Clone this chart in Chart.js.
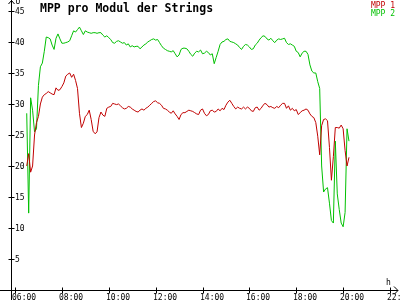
<!DOCTYPE html>
<html>
<head>
<meta charset="utf-8">
<script src="https://cdn.jsdelivr.net/npm/chart.js@4.4.1/dist/chart.umd.min.js"></script>
<style>
  html, body { margin: 0; padding: 0; background: #fff; }
  #wrap { width: 400px; height: 300px; position: relative; }
</style>
</head>
<body>
<div id="wrap"><canvas id="mppChart" width="400" height="300"></canvas></div>
<script>
// Messwerte alle 5 Minuten ab 06:30
var startTime = '06:30';
var stepMinutes = 5;

var mpp1 = [
  20, 22, 19, 20, 25, 27, 28, 30, 31.1, 31.5,
  31.7, 32, 31.8, 31.6, 31.5, 32.6, 32.2, 32.3, 32.8, 33.4,
  34.5, 34.8, 35, 34.3, 34.8, 33.8, 32.5, 28.5, 26.2, 26.9,
  28, 28.3, 29, 27.5, 25.6, 25.2, 25.5, 27.8, 28.7, 28.2,
  28, 29.3, 29.5, 29.6, 30.1, 30, 29.9, 30, 29.7, 29.4,
  29.2, 29.3, 29.6, 29.5, 29.2, 29, 28.8, 28.7, 29, 29.2,
  29, 29.3, 29.5, 29.8, 30.1, 30.4, 30.5, 30.2, 30.1, 29.8,
  29.3, 29.2, 29, 28.7, 28.5, 28.9, 28.4, 28, 27.5, 28.3,
  28.6, 28.6, 28.8, 29, 28.9, 28.8, 28.6, 28.4, 28.3, 29,
  29.2, 28.5, 28.1, 28.3, 28.9, 29, 28.7, 28.8, 29.2, 28.9,
  29.3, 29.1, 29.8, 30.3, 30.6, 30.1, 29.6, 29.2, 29.5, 29.3,
  29.2, 29.5, 29.2, 29.5, 29.3, 28.9, 28.8, 29.4, 29.5, 29,
  29.3, 29.8, 30.1, 29.9, 29.5, 29.6, 29.4, 29.3, 29.6, 29.4,
  29.8, 30.1, 30.1, 29.3, 29.7, 29, 29.3, 28.9, 29.1, 28.3,
  28.6, 28.9, 29, 29.2, 29, 28.4, 28, 27.8, 27, 24.8,
  21.8, 26.5, 27.5, 27.6, 27.3, 23, 17.7, 21.5, 26.2, 26.2,
  26.1, 26.6, 26, 22.5, 20, 21.4
];

var mpp2 = [
  28.5, 12.4, 31, 29, 25.5, 26, 33, 36, 36.6, 38.5,
  40.8, 40.7, 40.5, 39.5, 38.8, 40.6, 41.3, 40.5, 39.8, 39.8,
  39.9, 40, 40.2, 41, 41.8, 41.6, 42, 42.4, 41.8, 41.2,
  41.8, 41.6, 41.5, 41.4, 41.5, 41.5, 41.4, 41.5, 41.5, 41.1,
  40.8, 41, 40.7, 40.4, 39.9, 39.8, 40.1, 40.2, 40, 39.8,
  39.9, 39.5, 39.7, 39.2, 39.4, 39.2, 39.3, 39.3, 38.9, 39.2,
  39.5, 39.7, 40, 40.2, 40.4, 40.5, 40.3, 40.4, 39.9, 39.4,
  39, 38.8, 38.6, 38.5, 38.4, 38.6, 38.1, 37.6, 37.9, 38.8,
  39, 39, 38.9, 38.5, 38, 37.7, 38.2, 38.5, 38.4, 38.7,
  38.1, 38.2, 38.5, 38.3, 37.9, 38.1, 36.5, 37.5, 38.5, 39.6,
  40, 40.1, 40.4, 40.5, 40.1, 40, 39.9, 39.7, 39.5, 39.1,
  38.8, 39.3, 39.6, 39.5, 39.2, 38.8, 38.9, 39.5, 39.8, 40.3,
  40.7, 41, 40.9, 40.5, 40.3, 40.6, 40.2, 39.9, 40.3, 40.5,
  40.4, 40.5, 40.6, 39.9, 39.6, 39.7, 39.5, 39.3, 38.5, 38.3,
  37.6, 38.2, 38.5, 38.5, 38, 36.3, 35.3, 35, 35, 33.6,
  32.5, 20, 15.8, 16.3, 16.5, 14, 11.2, 10.8, 24, 15.5,
  13, 10.8, 10.2, 12.5, 26, 24
];

var hourTicks = [6, 8, 10, 12, 14, 16, 18, 20, 22];
var voltTicks = [5, 10, 15, 20, 25, 30, 35, 40, 45];
var seriesNames = ['MPP 1', 'MPP 2'];
var seriesColors = ['#c00000', '#00c000'];

function toPoints(values) {
  var parts = startTime.split(':');
  var start = parseInt(parts[0], 10) + parseInt(parts[1], 10) / 60;
  return values.map(function(v, i) {
    return { x: start + i * stepMinutes / 60, y: v };
  });
}

function hourLabel(h) {
  return (h < 10 ? '0' : '') + h + ':00';
}

var axisPlugin = {
  id: 'axisPlugin',
  afterDraw: function(chart) {
    var ctx = chart.ctx;
    var xs = chart.scales.x;
    var ys = chart.scales.y;
    var ax = chart.chartArea.left + 0.5;
    var ay = ys.getPixelForValue(0) + 0.5;

    ctx.save();
    ctx.strokeStyle = '#000';
    ctx.fillStyle = '#000';
    ctx.lineWidth = 1;

    // Achsen
    ctx.beginPath();
    ctx.moveTo(ax, 0);
    ctx.lineTo(ax, 300);
    ctx.moveTo(0, ay);
    ctx.lineTo(chart.chartArea.right, ay);
    // Pfeile
    ctx.moveTo(ax - 3, 4);
    ctx.lineTo(ax, 0.5);
    ctx.lineTo(ax + 3, 4);
    ctx.moveTo(chart.chartArea.right - 4, ay - 4);
    ctx.lineTo(chart.chartArea.right, ay);
    ctx.lineTo(chart.chartArea.right - 4, ay + 4);
    ctx.stroke();

    ctx.font = '8px "DejaVu Sans Mono", monospace';
    ctx.textBaseline = 'alphabetic';

    // x-Ticks
    ctx.beginPath();
    hourTicks.forEach(function(h) {
      var px = Math.round(xs.getPixelForValue(h)) + 0.5;
      ctx.moveTo(px, ay - 3);
      ctx.lineTo(px, ay + 3);
    });
    ctx.stroke();
    ctx.textAlign = 'left';
    hourTicks.forEach(function(h) {
      var px = Math.round(xs.getPixelForValue(h));
      ctx.fillText(hourLabel(h), px - 3, 300);
    });

    // y-Ticks
    ctx.beginPath();
    voltTicks.forEach(function(v) {
      var py = Math.round(ys.getPixelForValue(v)) + 0.5;
      ctx.moveTo(ax - 3, py);
      ctx.lineTo(ax + 3, py);
    });
    ctx.stroke();
    voltTicks.forEach(function(v) {
      var py = Math.round(ys.getPixelForValue(v));
      ctx.fillText(String(v), ax + 3.5, py + 3);
    });

    // Einheiten
    ctx.fillText('U', ax + 4, 4);
    ctx.fillText('h', 386, 285);

    // Titel
    ctx.font = 'bold 11.5px "DejaVu Sans Mono", monospace';
    ctx.fillText('MPP pro Modul der Strings', 40, 12);

    // Legende
    ctx.font = '8px "DejaVu Sans Mono", monospace';
    ctx.textAlign = 'right';
    seriesNames.forEach(function(name, i) {
      ctx.fillStyle = seriesColors[i];
      ctx.fillText(name, 395, 8 + i * 8);
    });
    ctx.restore();
  }
};

var ctx = document.getElementById('mppChart').getContext('2d');
var chartInstance = new Chart(ctx, {
  type: 'line',
  data: {
    datasets: [{
      label: seriesNames[0],
      data: toPoints(mpp1),
      borderColor: seriesColors[0],
      borderWidth: 1,
      pointRadius: 0,
      tension: 0,
      fill: false
    }, {
      label: seriesNames[1],
      data: toPoints(mpp2),
      borderColor: seriesColors[1],
      borderWidth: 1,
      pointRadius: 0,
      tension: 0,
      fill: false
    }]
  },
  options: {
    responsive: false,
    animation: false,
    layout: { padding: { left: 11, right: 2, top: 0, bottom: 10 } },
    plugins: { legend: { display: false }, tooltip: { enabled: false }, title: { display: false } },
    scales: {
      x: { type: 'linear', display: false, min: 5.829, max: 22.341 },
      y: { type: 'linear', display: false, min: 0, max: 46.77 }
    }
  },
  plugins: [axisPlugin]
});
</script>
</body>
</html>
